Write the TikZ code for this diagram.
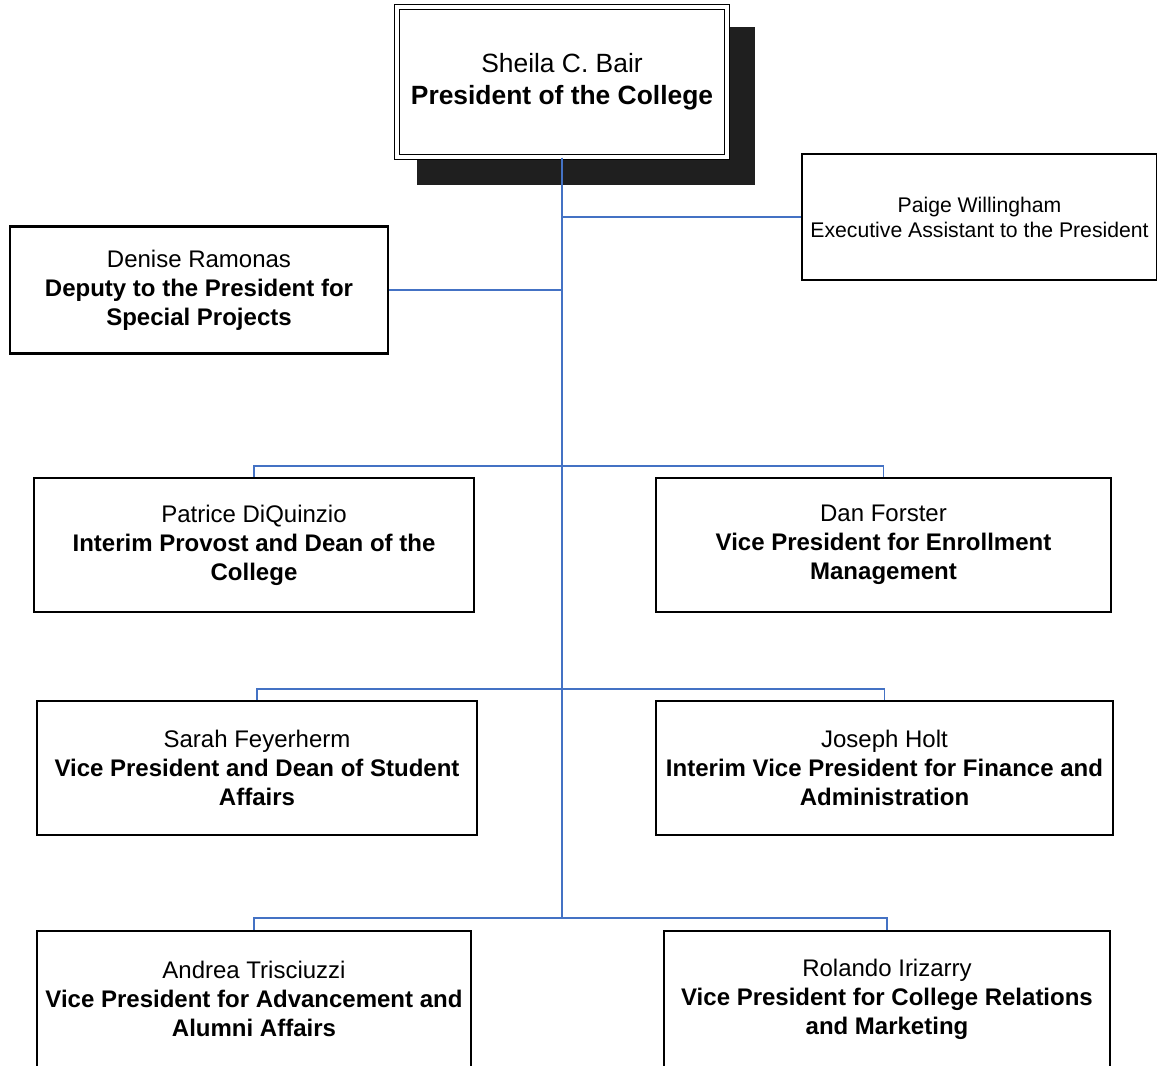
\documentclass[tikz,border=0pt]{standalone}
\usepackage{fontspec}
\setmainfont{Liberation Sans}
\definecolor{conncol}{HTML}{4472C4}
\definecolor{shadowcol}{HTML}{1F1F1F}
\begin{document}
\begin{tikzpicture}[x=0.75pt,y=-0.75pt,
  orgbox/.style={draw=black, line width=1.6pt, fill=white, inner sep=0pt, align=center,
    font={\fontsize{18}{21.75}\selectfont}},
  conn/.style={draw=conncol, line width=1.1pt}]
\useasboundingbox (0,0) rectangle (1157,1065);
\clip (0,0) rectangle (1157,1065);
\fill[white] (0,0) rectangle (1157,1065);
% shadow of the top box
\node[fill=shadowcol, inner sep=0pt, minimum width={338*0.75pt}, minimum height={158*0.75pt}] (shadow) at (586,106) {};
\coordinate (j1) at (562,217);
\coordinate (j2) at (562,290);
\coordinate (r1) at (562,466);
\coordinate (r2) at (562,689);
\coordinate (r3) at (562,918);
% boxes
\node[orgbox, draw=black, line width=1.1pt, double=white, double distance=2.6pt,
  minimum width={330*0.75pt}, minimum height={150*0.75pt},
  font={\fontsize{19.8}{24}\selectfont}] (top) at (562,82)
  {Sheila C. Bair\\\textbf{President of the College}};
\node[orgbox, minimum width={355*0.75pt}, minimum height={126*0.75pt},
  font={\fontsize{15.9}{18.75}\selectfont}] (paige) at (979.5,217)
  {Paige Willingham\\Executive Assistant to the President};
\node[orgbox, minimum width={378*0.75pt}, minimum height={127*0.75pt}] (denise) at (199,290)
  {Denise Ramonas\\\textbf{Deputy to the President for}\\\textbf{Special Projects}};
\node[orgbox, minimum width={440*0.75pt}, minimum height={134*0.75pt}] (pd) at (254,545)
  {Patrice DiQuinzio\\\textbf{Interim Provost and Dean of the}\\\textbf{College}};
\node[orgbox, minimum width={455*0.75pt}, minimum height={134*0.75pt}] (df) at (883.5,545)
  {Dan Forster\\\textbf{Vice President for Enrollment}\\\textbf{Management}};
\node[orgbox, minimum width={440*0.75pt}, minimum height={134*0.75pt}] (sf) at (257,768)
  {Sarah Feyerherm\\\textbf{Vice President and Dean of Student}\\\textbf{Affairs}};
\node[orgbox, minimum width={457*0.75pt}, minimum height={134*0.75pt}] (jh) at (884.5,768)
  {Joseph Holt\\\textbf{Interim Vice President for Finance and}\\\textbf{Administration}};
\node[orgbox, minimum width={434*0.75pt}, minimum height={136*0.75pt}] (at) at (254,999)
  {Andrea Trisciuzzi\\\textbf{Vice President for Advancement and}\\\textbf{Alumni Affairs}};
\node[orgbox, minimum width={446*0.75pt}, minimum height={136*0.75pt}] (ri) at (887,999)
  {Rolando Irizarry\\\textbf{Vice President for College Relations}\\\textbf{and Marketing}};
% connectors
\draw[conn] (top.south) -- (r3);
\draw[conn] (j1) -- (paige.west);
\draw[conn] (j2) -- (denise.east);
\draw[conn] (pd.north) |- (r1) -| (df.north);
\draw[conn] (sf.north) |- (r2) -| (jh.north);
\draw[conn] (at.north) |- (r3) -| (ri.north);
\end{tikzpicture}
\end{document}
